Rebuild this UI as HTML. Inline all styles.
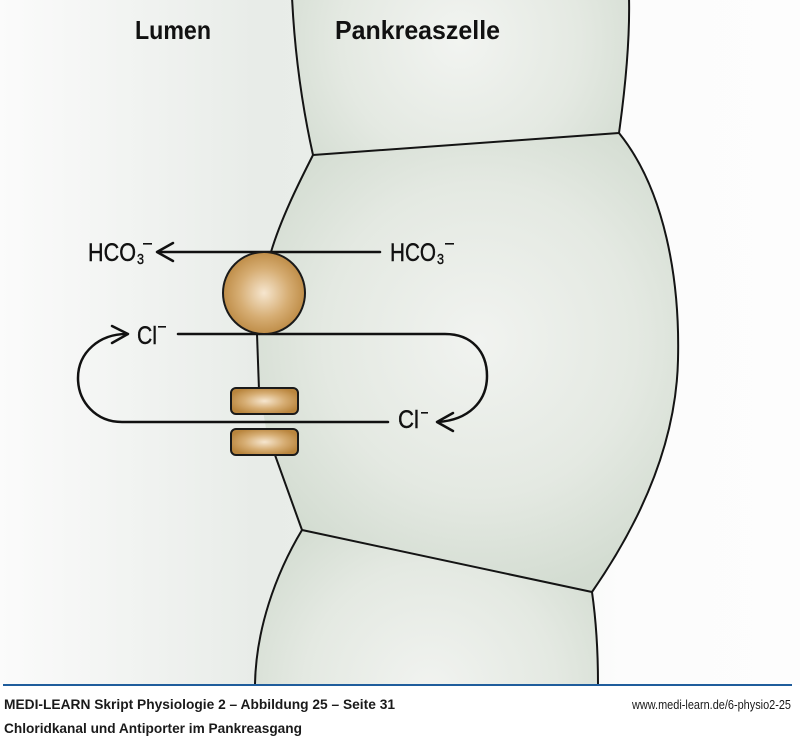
<!DOCTYPE html>
<html>
<head>
<meta charset="utf-8">
<style>
html,body{margin:0;padding:0;background:#ffffff;}
svg{display:block;}
</style>
</head>
<body>
<svg width="800" height="739" viewBox="0 0 800 739" xmlns="http://www.w3.org/2000/svg">
<defs>
  <linearGradient id="bg" x1="0" y1="0" x2="800" y2="0" gradientUnits="userSpaceOnUse">
    <stop offset="0" stop-color="#fbfbfb"/>
    <stop offset="0.09" stop-color="#f6f7f6"/>
    <stop offset="0.32" stop-color="#e8ece8"/>
    <stop offset="0.45" stop-color="#eaeeea"/>
    <stop offset="0.78" stop-color="#fcfcfc"/>
    <stop offset="1" stop-color="#fdfdfd"/>
  </linearGradient>
  <radialGradient id="cellTop" cx="460" cy="40" r="200" gradientUnits="userSpaceOnUse">
    <stop offset="0" stop-color="#f2f4f1"/>
    <stop offset="0.6" stop-color="#e4e9e2"/>
    <stop offset="1" stop-color="#d3dcd1"/>
  </radialGradient>
  <radialGradient id="cellMid" cx="480" cy="340" r="260" gradientUnits="userSpaceOnUse">
    <stop offset="0" stop-color="#f1f3f0"/>
    <stop offset="0.6" stop-color="#e4e9e2"/>
    <stop offset="1" stop-color="#d3dcd1"/>
  </radialGradient>
  <radialGradient id="cellBot" cx="430" cy="690" r="210" gradientUnits="userSpaceOnUse">
    <stop offset="0" stop-color="#f1f3f0"/>
    <stop offset="0.6" stop-color="#e4e9e2"/>
    <stop offset="1" stop-color="#d3dcd1"/>
  </radialGradient>
  <radialGradient id="brown" cx="0.5" cy="0.5" r="0.55">
    <stop offset="0" stop-color="#f6e6cf"/>
    <stop offset="0.55" stop-color="#d6ad73"/>
    <stop offset="1" stop-color="#b9853d"/>
  </radialGradient>
</defs>

<!-- background -->
<rect x="0" y="0" width="800" height="685" fill="url(#bg)"/>
<rect x="0" y="685" width="800" height="54" fill="#ffffff"/>

<!-- cell fills -->
<path d="M292,-3 C295,60 303,110 313,155 L619,133 C625,90 630,40 629,-3 Z" fill="url(#cellTop)"/>
<path d="M302,530 L592,592 C596,620 598,650 598,684 L255,684 C256,630 275,575 302,530 Z" fill="url(#cellBot)"/>
<path d="M313,155 C303,175 282,215 271,252 C262,285 257,310 257,334 L259,388 L268,440 L275,455 L302,530 L592,592 C635,530 676,450 678,360 C680,280 665,190 619,133 Z" fill="url(#cellMid)"/>

<!-- cell outlines -->
<g fill="none" stroke="#141414" stroke-width="2" stroke-linejoin="round">
  <path d="M292,-3 C295,60 303,110 313,155 L619,133 C625,90 630,40 629,-3"/>
  <path d="M255,684 C256,630 275,575 302,530 L592,592 C596,620 598,650 598,684"/>
  <path d="M313,155 C303,175 282,215 271,252"/>
  <path d="M257,334 L259,390"/>
  <path d="M275,455 L302,530"/>
  <path d="M592,592 C635,530 676,450 678,360 C680,280 665,190 619,133"/>
</g>

<!-- footer line -->
<line x1="3" y1="685" x2="792" y2="685" stroke="#1f5d9c" stroke-width="2"/>

<!-- arrows -->
<g fill="none" stroke="#111" stroke-width="2.5" stroke-linecap="round" stroke-linejoin="round">
  <path d="M380,252 L158,252"/>
  <path d="M173,243 L157,252 L173,261"/>
  <path d="M178,334 L445,334 C472,334 487,352 487,376 C487,402 468,420 438,422"/>
  <path d="M453,413 L437,422 L453,431"/>
  <path d="M388,422 L122,422 C96,422 78,402 78,378 C78,352 100,334 126,334"/>
  <path d="M112,326 L128,334 L112,343"/>
</g>

<!-- transporter circle -->
<circle cx="264" cy="293" r="41" fill="url(#brown)" stroke="#1a1a1a" stroke-width="2"/>
<!-- channel -->
<rect x="231" y="388" width="67" height="26" rx="5" ry="5" fill="url(#brown)" stroke="#1a1a1a" stroke-width="2"/>
<rect x="231" y="429" width="67" height="26" rx="5" ry="5" fill="url(#brown)" stroke="#1a1a1a" stroke-width="2"/>

<!-- headers -->
<g font-family="'Liberation Sans', sans-serif" font-weight="bold" fill="#111" font-size="26">
  <text x="135" y="39" textLength="76" lengthAdjust="spacingAndGlyphs">Lumen</text>
  <text x="335" y="39" textLength="165" lengthAdjust="spacingAndGlyphs">Pankreaszelle</text>
</g>

<!-- labels -->
<g font-family="'Liberation Sans', sans-serif" fill="#111" stroke="#111" stroke-width="0.4">
  <text x="88" y="261" font-size="25" textLength="48" lengthAdjust="spacingAndGlyphs">HCO</text>
  <text x="137" y="264" font-size="15" textLength="7" lengthAdjust="spacingAndGlyphs">3</text>
  <text x="390" y="261" font-size="25" textLength="46" lengthAdjust="spacingAndGlyphs">HCO</text>
  <text x="437" y="264" font-size="15" textLength="7" lengthAdjust="spacingAndGlyphs">3</text>
  <text x="137" y="344" font-size="25" textLength="20" lengthAdjust="spacingAndGlyphs">Cl</text>
  <text x="398" y="428" font-size="25" textLength="21" lengthAdjust="spacingAndGlyphs">Cl</text>
</g>
<g fill="#111">
  <rect x="143" y="243" width="9" height="1.6"/>
  <rect x="445" y="243" width="9" height="1.6"/>
  <rect x="158" y="326" width="8" height="1.6"/>
  <rect x="421" y="412" width="7" height="1.6"/>
</g>

<!-- footer text -->
<g font-family="'Liberation Sans', sans-serif" fill="#1a1a1a">
  <text x="4" y="709" font-size="13.5" font-weight="bold" textLength="391" lengthAdjust="spacingAndGlyphs">MEDI-LEARN Skript Physiologie 2 – Abbildung 25 – Seite 31</text>
  <text x="4" y="733" font-size="13.5" font-weight="bold" textLength="298" lengthAdjust="spacingAndGlyphs">Chloridkanal und Antiporter im Pankreasgang</text>
  <text x="632" y="709" font-size="12.5" textLength="159" lengthAdjust="spacingAndGlyphs">www.medi-learn.de/6-physio2-25</text>
</g>
</svg>
</body>
</html>
